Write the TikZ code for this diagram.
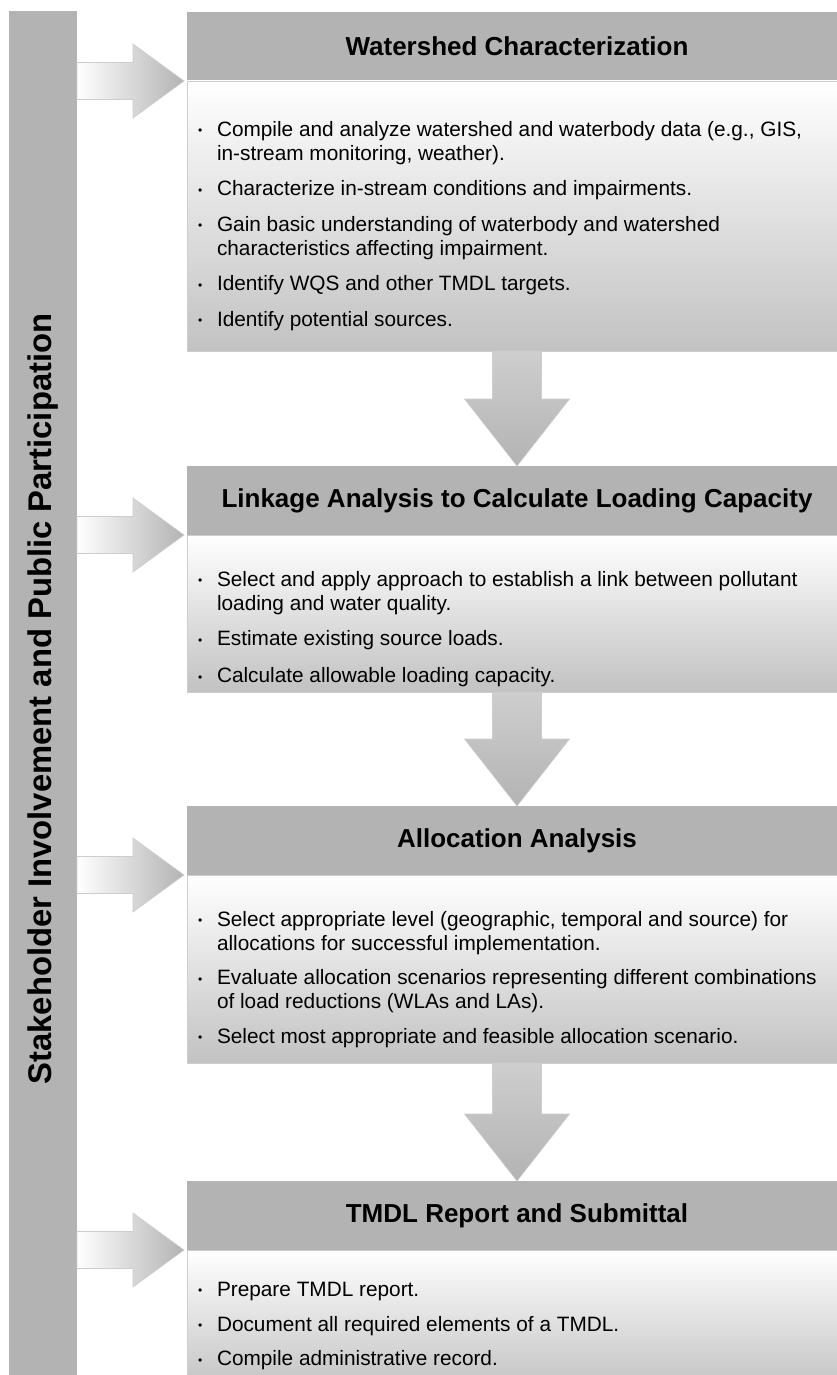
\documentclass[tikz,border=0pt]{standalone}
\usepackage{fontspec}
\setmainfont{Liberation Sans}
\usetikzlibrary{positioning, calc}

\definecolor{barGray}{RGB}{179,179,179}
\definecolor{bodyGray}{RGB}{194,194,194}
\definecolor{lineGray}{RGB}{205,205,205}
\definecolor{arrowTop}{RGB}{206,206,206}

\newcommand{\bpoint}{\makebox[22pt][l]{\hspace{3pt}\raisebox{1.5pt}{\fontsize{12}{12}\selectfont\textbullet}}}
\newcommand{\bcont}{\hspace*{22pt}}

\begin{document}
\begin{tikzpicture}[
        x=1pt, y=-1pt, node distance=0pt,
        every node/.style={outer sep=0pt},
        sidebar/.style={rectangle, fill=barGray, minimum width=68pt, minimum height=1376pt, inner sep=0pt, anchor=north west},
        header/.style={rectangle, fill=barGray, minimum width=660pt, minimum height=69pt, inner sep=0pt, font=\fontsize{26}{30}\selectfont\bfseries},
        body/.style={rectangle, draw=lineGray, line width=0.8pt, top color=white, bottom color=bodyGray, minimum width=660pt, inner sep=0pt},
        bodytext/.style={align=left, inner sep=0pt, font=\fontsize{20.8}{24}\selectfont},
        rarrow/.style={draw=lineGray, line width=0.6pt, left color=white, right color=barGray},
        darrow/.style={draw=lineGray, line width=0.6pt, top color=arrowTop, bottom color=barGray},
    ]
    \useasboundingbox (0,0) rectangle (837,1375);

    % Side bar
    \node [sidebar] (bar) at (9,11) {};
    \node [rotate=90, font=\fontsize{32.8}{38}\selectfont\bfseries] (bartext) at (bar.center) {Stakeholder Involvement and Public Participation};

    % Steps
    \node [header, anchor=north west] (wshead) at (187,12) {Watershed Characterization};
    \node [body, minimum height=270pt, below=of wshead] (wsbody) {};
    \node [header, below=115pt of wsbody] (lkhead) {Linkage Analysis to Calculate Loading Capacity};
    \node [body, minimum height=157pt, below=of lkhead] (lkbody) {};
    \node [header, below=114pt of lkbody] (alhead) {Allocation Analysis};
    \node [body, minimum height=188pt, below=of alhead] (albody) {};
    \node [header, below=118pt of albody] (rphead) {TMDL Report and Submittal};
    \node [body, minimum height=140pt, below=of rphead] (rpbody) {};

    % Bullet text
    \node [bodytext, below right=40pt and 8pt of wsbody.north west] (wstext) {%
        \bpoint Compile and analyze watershed and waterbody data (e.g., GIS,\\
        \bcont in-stream monitoring, weather).\\[11.5pt]
        \bpoint Characterize in-stream conditions and impairments.\\[11.5pt]
        \bpoint Gain basic understanding of waterbody and watershed\\
        \bcont characteristics affecting impairment.\\[11.5pt]
        \bpoint Identify WQS and other TMDL targets.\\[11.5pt]
        \bpoint Identify potential sources.};
    \node [bodytext, below right=36pt and 8pt of lkbody.north west] (lktext) {%
        \bpoint Select and apply approach to establish a link between pollutant\\
        \bcont loading and water quality.\\[11.5pt]
        \bpoint Estimate existing source loads.\\[13pt]
        \bpoint Calculate allowable loading capacity.};
    \node [bodytext, below right=36pt and 8pt of albody.north west] (altext) {%
        \bpoint Select appropriate level (geographic, temporal and source) for\\
        \bcont allocations for successful implementation.\\[10.5pt]
        \bpoint Evaluate allocation scenarios representing different combinations\\
        \bcont of load reductions (WLAs and LAs).\\[10.5pt]
        \bpoint Select most appropriate and feasible allocation scenario.};
    \node [bodytext, below right=32pt and 8pt of rpbody.north west] (rptext) {%
        \bpoint Prepare TMDL report.\\[11pt]
        \bpoint Document all required elements of a TMDL.\\[10.5pt]
        \bpoint Compile administrative record.};

    % Arrows down
    \draw [darrow] ([xshift=-24.5pt]wsbody.south) -- ([xshift=-24.5pt,yshift=67pt]lkhead.north) -- ([xshift=-52.5pt,yshift=67pt]lkhead.north) -- (lkhead.north) -- ([xshift=52.5pt,yshift=67pt]lkhead.north) -- ([xshift=24.5pt,yshift=67pt]lkhead.north) -- ([xshift=24.5pt]wsbody.south) -- cycle;
    \draw [darrow] ([xshift=-24.5pt]lkbody.south) -- ([xshift=-24.5pt,yshift=67pt]alhead.north) -- ([xshift=-52.5pt,yshift=67pt]alhead.north) -- (alhead.north) -- ([xshift=52.5pt,yshift=67pt]alhead.north) -- ([xshift=24.5pt,yshift=67pt]alhead.north) -- ([xshift=24.5pt]lkbody.south) -- cycle;
    \draw [darrow] ([xshift=-24.5pt]albody.south) -- ([xshift=-24.5pt,yshift=67pt]rphead.north) -- ([xshift=-52.5pt,yshift=67pt]rphead.north) -- (rphead.north) -- ([xshift=52.5pt,yshift=67pt]rphead.north) -- ([xshift=24.5pt,yshift=67pt]rphead.north) -- ([xshift=24.5pt]albody.south) -- cycle;

    % Arrows from the side bar
    \draw [rarrow] ([yshift=18.5pt]bar.east |- wshead.south) -- ++(56,0) -- ++(0,-18.5) -- ([xshift=-3pt]wshead.south west) -- ++(-51,37) -- ++(0,-18.5) -- ++(-56,0) -- cycle;
    \draw [rarrow] ([yshift=18.5pt]bar.east |- lkhead.south) -- ++(56,0) -- ++(0,-18.5) -- ([xshift=-3pt]lkhead.south west) -- ++(-51,37) -- ++(0,-18.5) -- ++(-56,0) -- cycle;
    \draw [rarrow] ([yshift=18.5pt]bar.east |- alhead.south) -- ++(56,0) -- ++(0,-18.5) -- ([xshift=-3pt]alhead.south west) -- ++(-51,37) -- ++(0,-18.5) -- ++(-56,0) -- cycle;
    \draw [rarrow] ([yshift=18.5pt]bar.east |- rphead.south) -- ++(56,0) -- ++(0,-18.5) -- ([xshift=-3pt]rphead.south west) -- ++(-51,37) -- ++(0,-18.5) -- ++(-56,0) -- cycle;

\end{tikzpicture}
\end{document}
